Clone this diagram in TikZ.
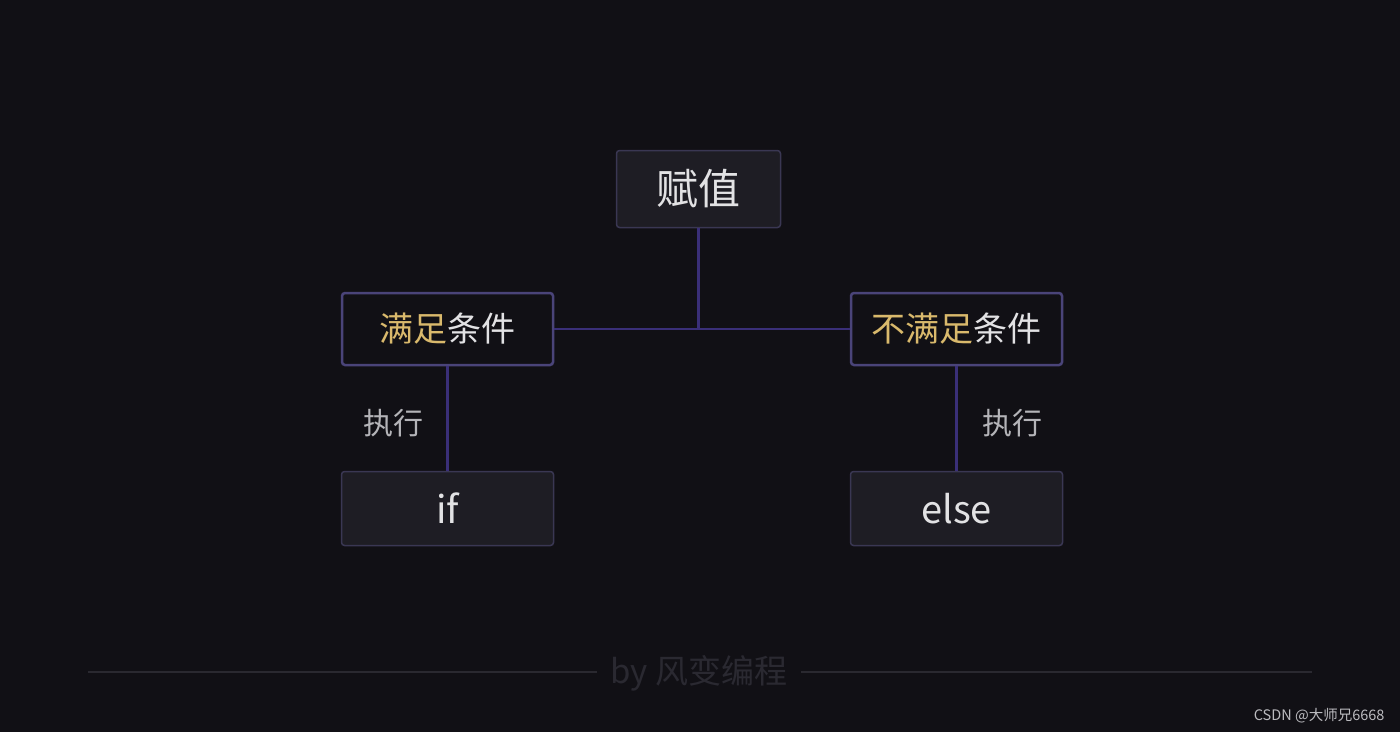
\documentclass[tikz,border=0pt]{standalone}
\usepackage{fontspec}
\setmainfont{Noto Sans CJK SC}
\usepackage{tikz}
\usetikzlibrary{positioning}
\definecolor{bgdark}{HTML}{111015}
\definecolor{boxfill}{HTML}{1E1D24}
\definecolor{boxedge}{HTML}{3A3753}
\definecolor{condedge}{HTML}{4A4479}
\definecolor{linkline}{HTML}{3A2F78}
\definecolor{gold}{HTML}{D9B96C}
\definecolor{lighttext}{HTML}{E2E2E4}
\definecolor{greytext}{HTML}{B4B4B8}
\definecolor{footline}{HTML}{2A2930}
\definecolor{foottext}{HTML}{2A2931}

\begin{document}
\begin{tikzpicture}[x=1pt, y=-1pt,
    plainbox/.style={draw=boxedge, line width=1.5pt, fill=boxfill, rounded corners=3pt,
        text=lighttext, inner sep=0pt},
    condbox/.style={draw=condedge, line width=2.5pt, fill=bgdark, rounded corners=3pt,
        text=lighttext, inner sep=0pt, minimum width=211pt, minimum height=72pt,
        font=\fontsize{34}{36}\selectfont},
    link/.style={draw=linkline, line width=2.5pt},
    execlabel/.style={text=greytext, font=\fontsize{30}{34}\selectfont}]

    % background and frame
    \fill[bgdark] (0,0) rectangle (1400,732);
    \useasboundingbox (0,0) rectangle (1400,732);

    % boxes
    \node[plainbox, minimum width=164pt, minimum height=77pt,
        font=\fontsize{42}{44}\selectfont] (assign) at (698.5,189) {赋值};
    \node[condbox] (yes) at (447.5,329) {\textcolor{gold}{满足}条件};
    \node[condbox] (no) at (956.5,329) {\textcolor{gold}{不满足}条件};
    \node[plainbox, minimum width=212pt, minimum height=74pt,
        font=\fontsize{38}{40}\selectfont] (ifbox) at (447.5,508.5) {if};
    \node[plainbox, minimum width=212pt, minimum height=74pt,
        font=\fontsize{38}{40}\selectfont] (elsebox) at (956.5,508.5) {else};

    % connectors
    \draw[link] (yes.east) -- (no.west);
    \draw[link] (assign.south) -- (assign.south |- yes.east);
    \draw[link] (yes.south) -- (ifbox.north);
    \draw[link] (no.south) -- (elsebox.north);

    \node[execlabel] (execyes) at (393,423) {执行};
    \node[execlabel] (execno) at (1012,423) {执行};

    % footer
    \node[text=foottext, font=\fontsize{33}{36}\selectfont, outer sep=10pt] (credit) at (699,673) {by 风变编程};
    \coordinate (ruleleft) at (88,672);
    \coordinate (ruleright) at (1312,672);
    \draw[footline, line width=1.2pt] (ruleleft) -- (credit.west |- ruleleft);
    \draw[footline, line width=1.2pt] (credit.east |- ruleright) -- (ruleright);

    \node[text=greytext!90, font=\fontsize{14.5}{16}\selectfont, anchor=east] (mark) at (1388,716) {CSDN @大师兄6668};
\end{tikzpicture}
\end{document}
